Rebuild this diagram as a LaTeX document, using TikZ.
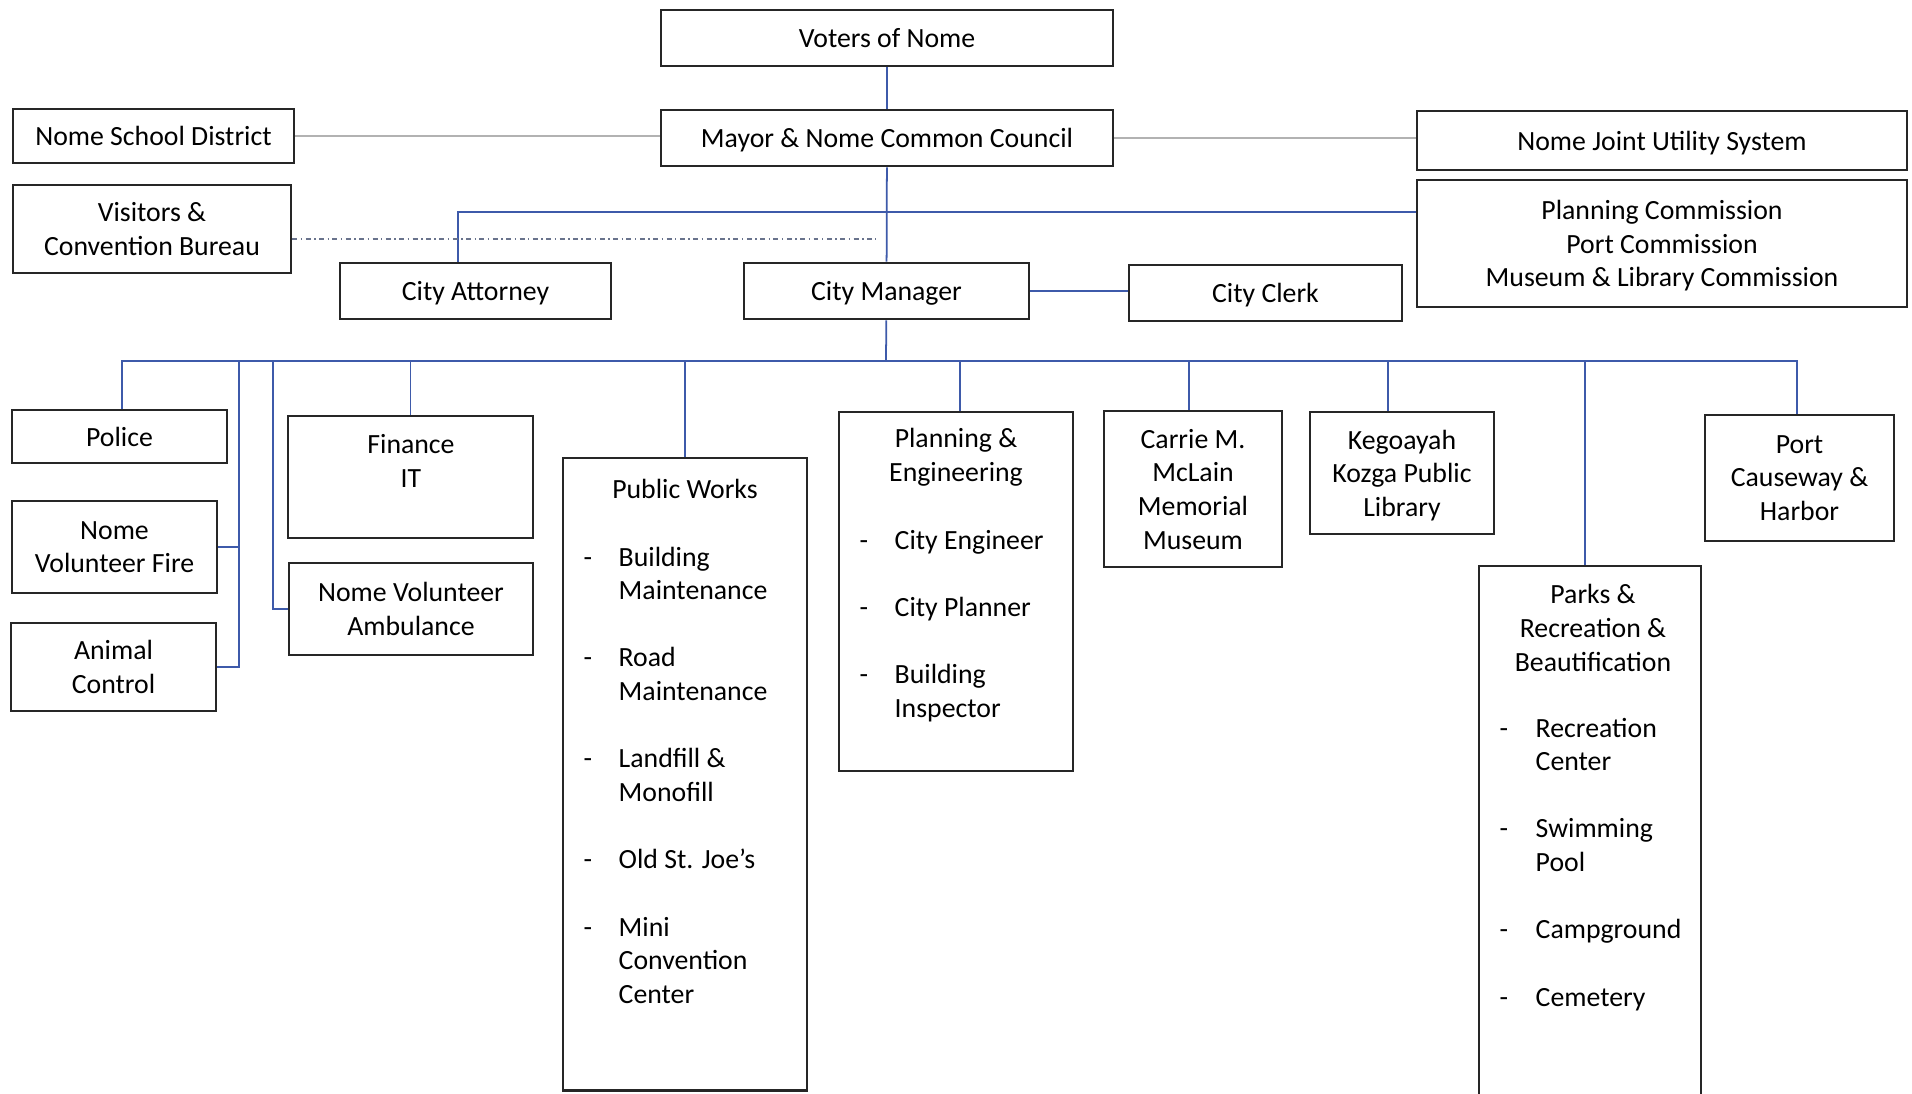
\documentclass[tikz,border=0pt]{standalone}
\usepackage{fontspec}
\setmainfont{Carlito}
\definecolor{linkblue}{RGB}{62,90,170}
\definecolor{ddgray}{RGB}{105,115,140}
\begin{document}
\begin{tikzpicture}[x=0.01cm,y=-0.01cm,
  box/.style={draw=black!85, line width=0.75pt, inner sep=0pt, align=center, text depth=0pt, font=\fontsize{7.9}{9.57}\selectfont, text=black},
  txt/.style={inner sep=0pt, align=center, font=\fontsize{7.9}{9.57}\selectfont},
  lst/.style={inner sep=0pt, anchor=base west, font=\fontsize{7.9}{9.57}\selectfont},
  conn/.style={draw=linkblue, line width=0.5pt},
  side/.style={draw=black!30, line width=0.5pt},
  dd/.style={draw=ddgray, line width=0.6pt, dash pattern=on 1.4pt off 1pt on 0.4pt off 1pt}]
\useasboundingbox[fill=white] (0,0) rectangle (1912,1093);

% boxes
\node[box, minimum width=4.52cm, minimum height=0.56cm] (voters) at (887,38) {Voters of Nome};
\node[box, minimum width=4.52cm, minimum height=0.56cm] (mayor) at (887,138) {Mayor \& Nome Common Council};
\node[box, minimum width=2.81cm, minimum height=0.54cm] (school) at (153.5,136) {Nome School District};
\node[box, minimum width=2.78cm, minimum height=0.88cm] (visitors) at (152,229) {Visitors \&\\Convention Bureau};
\node[box, minimum width=4.90cm, minimum height=0.59cm] (njus) at (1662,140.5) {Nome Joint Utility System};
\node[box, minimum width=4.90cm, minimum height=1.27cm] (plancomm) at (1662,243.5) {Planning Commission\\Port Commission\\Museum \& Library Commission};
\node[box, minimum width=2.71cm, minimum height=0.56cm] (attorney) at (475.5,291) {City Attorney};
\node[box, minimum width=2.85cm, minimum height=0.56cm] (manager) at (886.5,291) {City Manager};
\node[box, minimum width=2.73cm, minimum height=0.56cm] (clerk) at (1265.5,293) {City Clerk};
\node[box, minimum width=2.15cm, minimum height=0.53cm] (police) at (119.5,436.5) {Police};
\node[box, minimum width=2.05cm, minimum height=0.92cm] (fire) at (114.5,547) {Nome\\Volunteer Fire};
\node[box, minimum width=2.05cm, minimum height=0.88cm] (animal) at (113.5,667) {Animal\\Control};
\node[box, minimum width=2.45cm, minimum height=1.22cm] (finance) at (410.5,477) {};
\node[box, minimum width=2.44cm, minimum height=0.92cm] (ambulance) at (411,609) {Nome Volunteer\\Ambulance};
\node[box, minimum width=2.44cm, minimum height=6.32cm] (pw) at (685,774) {};
\node[box, minimum width=2.34cm, minimum height=3.59cm] (planeng) at (956,591.5) {};
\node[box, minimum width=1.78cm, minimum height=1.56cm] (museum) at (1193,489) {Carrie M.\\McLain\\Memorial\\Museum};
\node[box, minimum width=1.84cm, minimum height=1.22cm] (library) at (1402,473) {Kegoayah\\Kozga Public\\Library};
\node[box, minimum width=1.89cm, minimum height=1.26cm] (port) at (1799.5,478) {Port\\Causeway \&\\Harbor};
\node[box, minimum width=2.22cm, minimum height=5.44cm] (parks) at (1590,838) {};

% texts of top-aligned boxes
\node[txt] (fintext) at (411,461) {Finance\\IT};
\node[txt] (pwtitle) at (685,489) {Public Works};
\node[txt] (petitle) at (956,457) {Planning \&\\Engineering};
\node[txt] (patitle) at (1593,628) {Parks \&\\Recreation \&\\Beautification};

\node[lst] (pwlist) at (583,566) {\begin{tabular}[t]{@{}p{0.35cm}@{}l@{}}
-&Building\\&Maintenance\\&\\
-&Road\\&Maintenance\\&\\
-&Landfill \&\\&Monofill\\&\\
-&Old St. Joe’s\\&\\
-&Mini\\&Convention\\&Center
\end{tabular}};
\node[lst] (pelist) at (859,549) {\begin{tabular}[t]{@{}p{0.35cm}@{}l@{}}
-&City Engineer\\&\\
-&City Planner\\&\\
-&Building\\&Inspector
\end{tabular}};
\node[lst] (palist) at (1499,737) {\begin{tabular}[t]{@{}p{0.36cm}@{}l@{}}
-&Recreation\\&Center\\&\\
-&Swimming\\&Pool\\&\\
-&Campground\\&\\
-&Cemetery
\end{tabular}};

% connectors
\draw[conn] (voters) -- (mayor);
\draw[conn] (mayor) -- (manager);
\draw[side] (school.east) -- (school.east -| mayor.west);
\draw[side] (mayor.east) -- (mayor.east -| njus.west);
\coordinate (ja) at (458,212);
\draw[conn] (ja |- attorney.north) -- (ja) -- (ja -| plancomm.west);
\coordinate (ddend) at (876,239);
\draw[dd] (visitors.east |- ddend) -- (ddend);
\draw[conn] (manager.east) -- (manager.east -| clerk.west);

\coordinate (bus) at (886,361);
\coordinate (busL) at (122,361);
\coordinate (busR) at (1797,361);
\draw[conn] (manager) -- (bus);
\draw[conn] (busL |- police.north) -- (busL) -- (busR) -- (busR |- port.north);
\coordinate (bfa) at (239,361);
\draw[conn] (bfa) |- (animal.east);
\draw[conn] (fire.east) -- (fire.east -| bfa);
\coordinate (bam) at (273,361);
\draw[conn] (bam) |- (ambulance.west);
\draw[conn] (finance.north) -- (finance.north |- bus);
\draw[conn] (pw.north) -- (pw.north |- bus);
\coordinate (bpe) at (960,361);
\draw[conn] (bpe) -- (bpe |- planeng.north);
\coordinate (bmu) at (1189,361);
\draw[conn] (bmu) -- (bmu |- museum.north);
\coordinate (bli) at (1388,361);
\draw[conn] (bli) -- (bli |- library.north);
\coordinate (bpa) at (1585,361);
\draw[conn] (bpa) -- (bpa |- parks.north);
\end{tikzpicture}
\end{document}
